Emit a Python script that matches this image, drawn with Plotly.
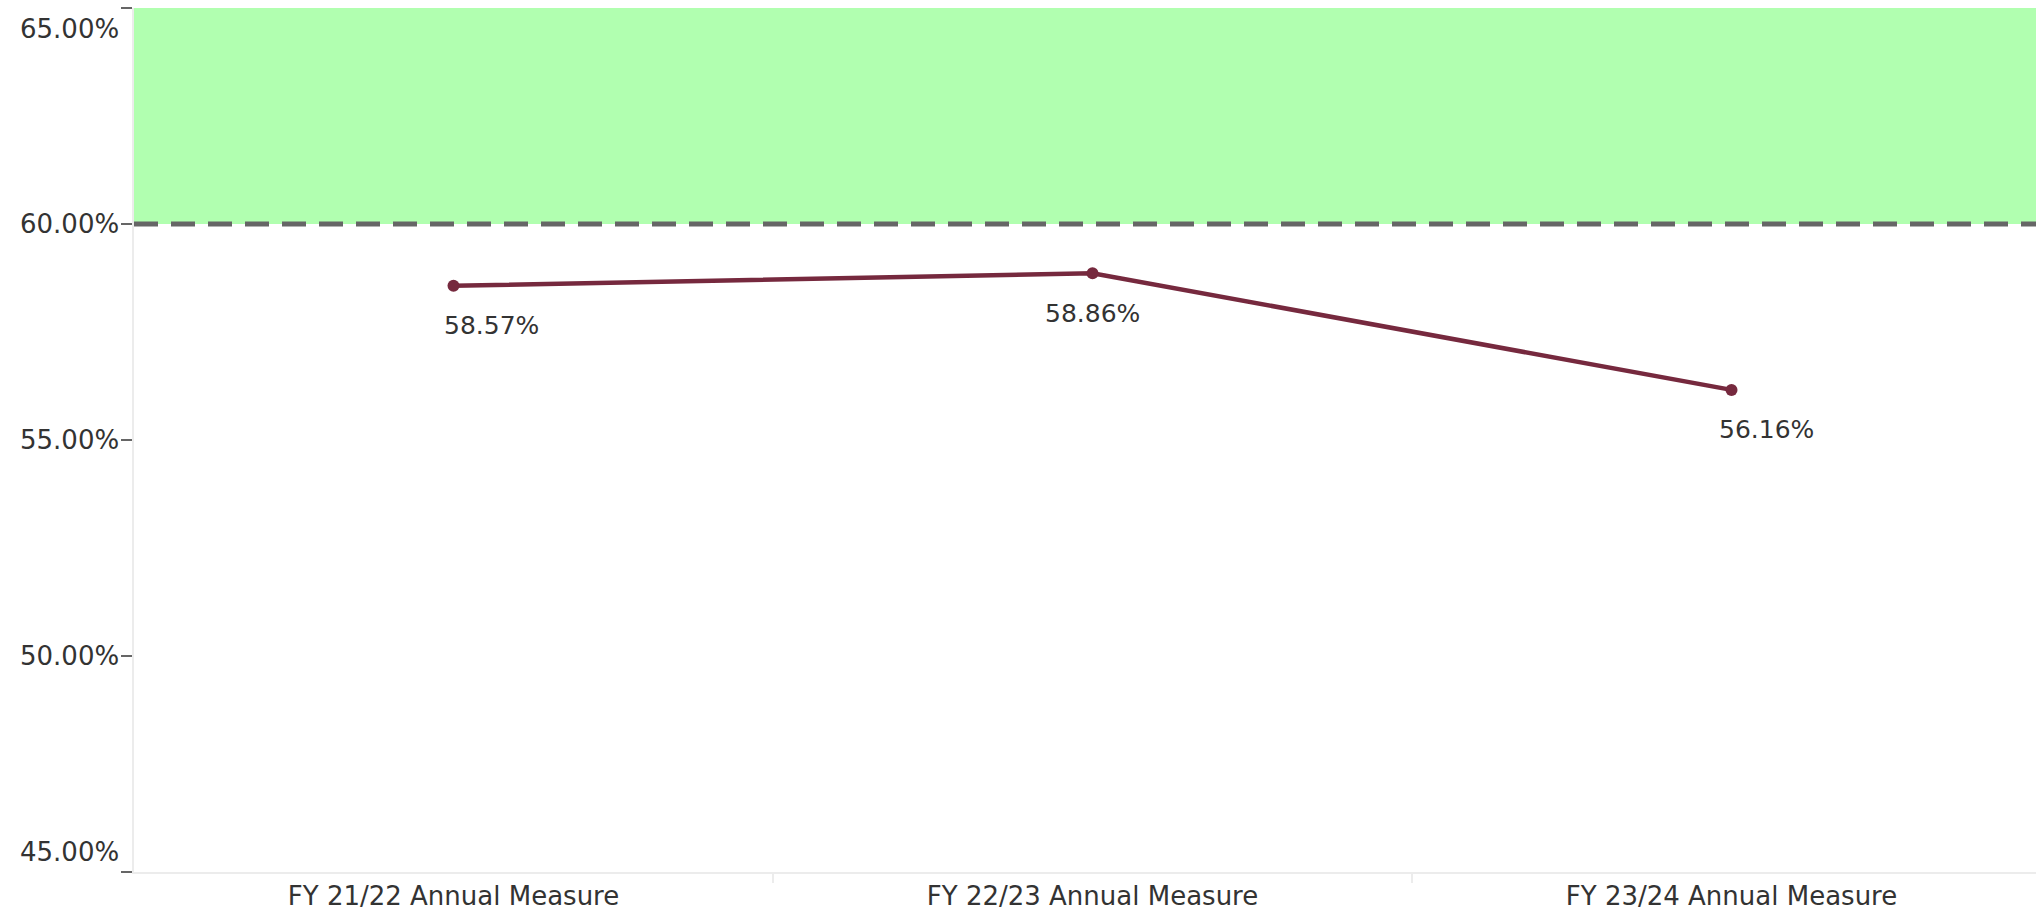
import plotly.graph_objects as go

# Annual measure values (percent)
categories = ["FY 21/22 Annual Measure", "FY 22/23 Annual Measure", "FY 23/24 Annual Measure"]
values = [58.57, 58.86, 56.16]

# Target threshold and the goal band above it
target = 60.0
band_top = 65.0

# Y-axis ticks
y_ticks = [45, 50, 55, 60, 65]

# Horizontal nudges for the value labels (px)
label_xshift = [38, 0, 35]

FONT = "DejaVu Sans"
TEXT = "#333333"
LINE = "#76293e"

x_pos = list(range(len(categories)))

fig = go.Figure()
fig.add_trace(go.Scatter(
    x=x_pos, y=values, mode="lines+markers",
    line=dict(color=LINE, width=4.5),
    marker=dict(color=LINE, size=12),
    hoverinfo="skip", showlegend=False,
))

# Goal band and dashed target line
fig.add_shape(type="rect", xref="paper", x0=0, x1=1, yref="y", y0=target, y1=band_top,
              fillcolor="#b1ffb0", line=dict(width=0), layer="below")
fig.add_shape(type="line", xref="paper", x0=0, x1=1, yref="y", y0=target, y1=target,
              line=dict(color="#666666", width=5, dash="24px,13px"), layer="above")

# Value labels under each point
for i, v in enumerate(values):
    fig.add_annotation(x=i, y=v, text=f"{v:.2f}%", showarrow=False,
                       xanchor="center", yanchor="middle",
                       xshift=label_xshift[i], yshift=-40,
                       font=dict(family=FONT, size=25, color=TEXT))

# Y tick labels; the end labels sit inside the axis range
for t in y_ticks:
    shift = 0
    if t == max(y_ticks):
        shift = -21
    elif t == min(y_ticks):
        shift = 20
    fig.add_annotation(xref="paper", x=0, y=t, yref="y", text=f"{t:.2f}%",
                       showarrow=False, xanchor="right", yanchor="middle",
                       xshift=-13, yshift=shift,
                       font=dict(family=FONT, size=26, color=TEXT))

fig.update_layout(
    width=2036, height=919,
    margin=dict(l=134, r=0, t=8, b=47),
    paper_bgcolor="white", plot_bgcolor="white",
    font=dict(family=FONT, color=TEXT),
    xaxis=dict(
        range=[-0.5, 2.4765], tickvals=x_pos, ticktext=categories,
        showgrid=False, zeroline=False, showline=True, linecolor="#ececec", linewidth=2,
        ticks="", tickfont=dict(family=FONT, size=26, color=TEXT),
        minor=dict(tickvals=[0.5, 1.5], ticks="outside", ticklen=9, tickcolor="#ececec", tickwidth=2),
        fixedrange=True,
    ),
    yaxis=dict(
        range=[45, 65], tickvals=y_ticks, showticklabels=False,
        showgrid=False, zeroline=False, showline=True, linecolor="#ececec", linewidth=2,
        ticks="outside", ticklen=11, tickcolor="#666666", tickwidth=2,
        fixedrange=True,
    ),
)

fig.write_html("out.html", config={"displayModeBar": False})
